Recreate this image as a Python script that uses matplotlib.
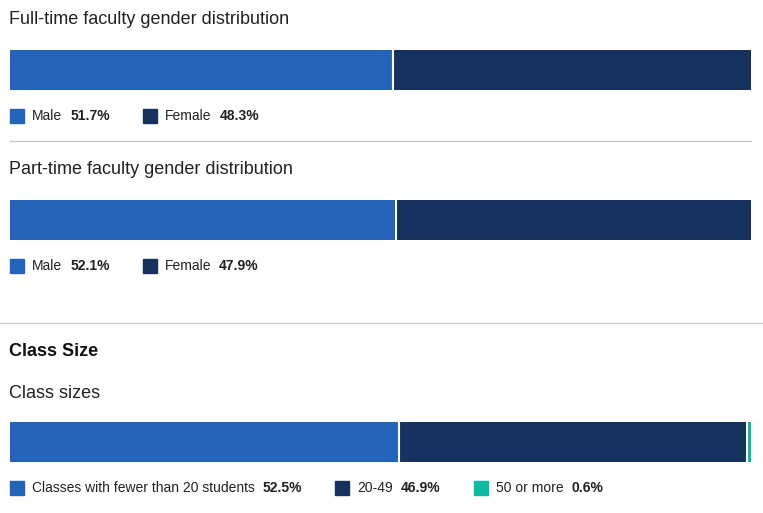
import matplotlib
matplotlib.use("Agg")
import matplotlib.pyplot as plt
from matplotlib.patches import Rectangle
from matplotlib.lines import Line2D

plt.rcParams['font.family'] = ['Liberation Sans', 'DejaVu Sans']

W, H = 763, 513

# data
fulltime_labels = ['Male', 'Female']
fulltime_values = [51.7, 48.3]
parttime_labels = ['Male', 'Female']
parttime_values = [52.1, 47.9]
class_labels = ['Classes with fewer than 20 students', '20-49', '50 or more']
class_values = [52.5, 46.9, 0.6]

COLORS = ['#2364ba', '#15325e', '#0bbba1']
TEXT = '#222222'


def fx(x):
    return x / W


def fy(y):
    return 1 - y / H


def text_px(fig, x, y, s, **kw):
    return fig.text(fx(x), fy(y), s, va='center', ha='left', color=kw.pop('color', TEXT), **kw)


def stacked_bar(fig, top, values):
    left, width, height = 10, 741, 40
    ax = fig.add_axes([fx(left), fy(top + height), width / W, height / H])
    start = 0
    for v, c in zip(values, COLORS):
        ax.barh(0, v, left=start, height=1, color=c, linewidth=0)
        start += v
        if start < sum(values) - 1e-9:
            ax.axvline(start, color='white', linewidth=1.5)
    ax.set_xlim(0, sum(values))
    ax.set_ylim(-0.5, 0.5)
    ax.axis('off')


def legend(fig, y, labels, values):
    fig.canvas.draw()
    r = fig.canvas.get_renderer()
    x = 10
    for lab, v, c in zip(labels, values, COLORS):
        fig.patches.append(Rectangle((fx(x), fy(y + 7)), 14 / W, 14 / H,
                                     transform=fig.transFigure, color=c))
        t = text_px(fig, x + 22, y, lab, fontsize=10)
        w1 = t.get_window_extent(r).width
        t2 = text_px(fig, x + 22 + w1 + 8, y, f'{v}%', fontsize=10, fontweight='bold')
        w2 = t2.get_window_extent(r).width
        x = x + 22 + w1 + 8 + w2 + 33


def hline(fig, y, x0, x1):
    fig.lines.append(Line2D([fx(x0), fx(x1)], [fy(y), fy(y)], transform=fig.transFigure,
                            color='#cccccc', linewidth=1))


fig = plt.figure(figsize=(W / 100, H / 100), dpi=100)

text_px(fig, 9, 20, 'Full-time faculty gender distribution', fontsize=13)
stacked_bar(fig, 50, fulltime_values)
legend(fig, 116, fulltime_labels, fulltime_values)
hline(fig, 140.5, 10, 751)

text_px(fig, 9, 170, 'Part-time faculty gender distribution', fontsize=13)
stacked_bar(fig, 200, parttime_values)
legend(fig, 266, parttime_labels, parttime_values)
hline(fig, 322.5, 0, 763)

text_px(fig, 9, 351, 'Class Size', fontsize=13, fontweight='bold', color='#111111')
text_px(fig, 9, 393, 'Class sizes', fontsize=13)
stacked_bar(fig, 422, class_values)
legend(fig, 488, class_labels, class_values)

fig.savefig('out.png', dpi=100)
